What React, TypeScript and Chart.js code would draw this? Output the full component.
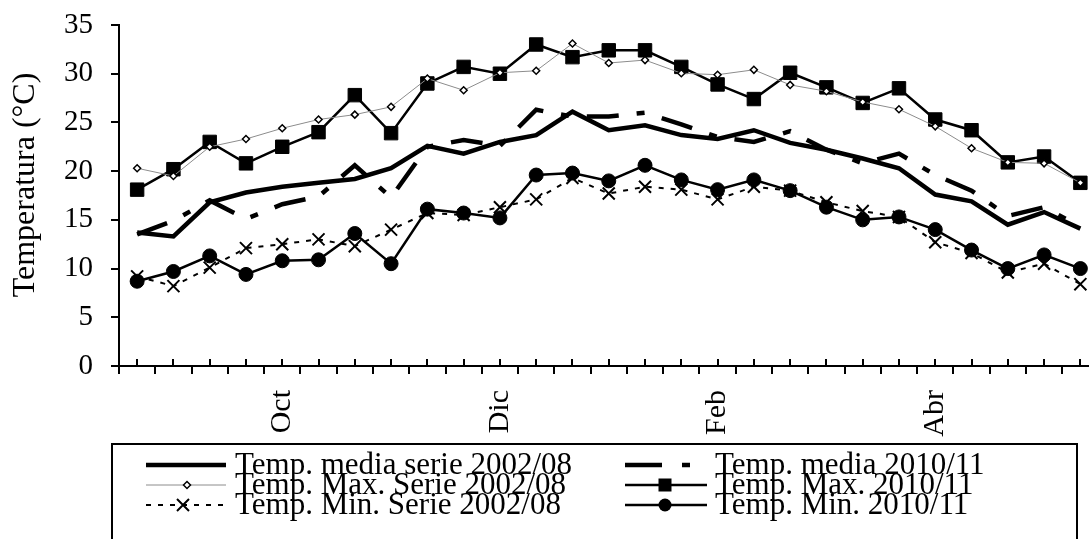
import React, { useEffect, useRef } from 'react';
import { Chart, registerables } from 'chart.js';

Chart.register(...registerables);

const FONT = "'Liberation Serif', 'Times New Roman', serif";

const categories = [
  '', '', '', '', 'Oct', '', '', '', '', '', 'Dic', '', '', '',
  '', '', 'Feb', '', '', '', '', '', 'Abr', '', '', '', '',
];

const yTicks = [0, 5, 10, 15, 20, 25, 30, 35];
const yTitle = 'Temperatura (°C)';

const mediaSerie = [
  13.7, 13.3, 16.8, 17.8, 18.4, 18.8, 19.2, 20.3, 22.6, 21.8, 23.0, 23.7, 26.1, 24.2,
  24.7, 23.7, 23.3, 24.2, 22.9, 22.2, 21.3, 20.3, 17.6, 16.9, 14.5, 15.8, 14.1,
];
const maxSerie = [
  20.3, 19.5, 22.5, 23.3, 24.4, 25.3, 25.8, 26.6, 29.5, 28.3, 30.1, 30.3, 33.1, 31.1,
  31.4, 30.05, 29.9, 30.4, 28.85, 28.2, 27.1, 26.35, 24.6, 22.35, 20.9, 20.8, 18.8,
];
const minSerie = [
  9.2, 8.2, 10.1, 12.1, 12.5, 13.0, 12.3, 14.0, 15.7, 15.5, 16.3, 17.1, 19.3, 17.7,
  18.4, 18.1, 17.1, 18.4, 18.0, 16.8, 15.9, 15.3, 12.7, 11.6, 9.6, 10.5, 8.4,
];
const media1011 = [
  13.5, 14.9, 17.0, 15.1, 16.6, 17.4, 20.6, 17.3, 22.5, 23.2, 22.6, 26.3, 25.6, 25.6,
  26.0, 24.8, 23.5, 23.0, 24.1, 22.2, 20.8, 21.8, 19.6, 18.0, 15.4, 16.3, 14.3,
];
const max1011 = [
  18.1, 20.2, 23.0, 20.8, 22.5, 24.0, 27.8, 23.9, 29.0, 30.7, 30.0, 33.0, 31.7, 32.4,
  32.4, 30.7, 28.9, 27.4, 30.1, 28.6, 27.0, 28.5, 25.3, 24.2, 20.9, 21.5, 18.8,
];
const min1011 = [
  8.7, 9.7, 11.3, 9.4, 10.8, 10.9, 13.6, 10.5, 16.1, 15.7, 15.2, 19.6, 19.8, 19.0,
  20.6, 19.1, 18.1, 19.1, 18.0, 16.3, 15.0, 15.3, 14.0, 11.9, 10.0, 11.4, 10.0,
];

const seriesNames = [
  'Temp. media serie 2002/08',
  'Temp. Max. Serie 2002/08',
  'Temp. Min. Serie 2002/08',
  'Temp. media 2010/11',
  'Temp. Max. 2010/11',
  'Temp. Min. 2010/11',
];

const CANVAS_W = 1109;
const CANVAS_H = 539;

function drawMarker(ctx: CanvasRenderingContext2D, kind: string, x: number, y: number) {
  ctx.save();
  ctx.setLineDash([]);
  ctx.strokeStyle = '#000';
  ctx.fillStyle = '#000';
  if (kind === 'diamond') {
    const r = 3.5;
    ctx.beginPath();
    ctx.moveTo(x - r, y);
    ctx.lineTo(x, y - r);
    ctx.lineTo(x + r, y);
    ctx.lineTo(x, y + r);
    ctx.closePath();
    ctx.fillStyle = '#fff';
    ctx.fill();
    ctx.lineWidth = 1.5;
    ctx.stroke();
  } else if (kind === 'x') {
    const r = 6;
    ctx.lineWidth = 2;
    ctx.beginPath();
    ctx.moveTo(x - r, y - r);
    ctx.lineTo(x + r, y + r);
    ctx.moveTo(x - r, y + r);
    ctx.lineTo(x + r, y - r);
    ctx.stroke();
  } else if (kind === 'square') {
    ctx.fillRect(x - 6.5, y - 6.5, 13, 13);
  } else if (kind === 'circle') {
    ctx.beginPath();
    ctx.arc(x, y, 6.5, 0, Math.PI * 2);
    ctx.fill();
  }
  ctx.restore();
}

const decorPlugin = {
  id: 'decor',
  afterDraw(chart: any) {
    const ctx: CanvasRenderingContext2D = chart.ctx;
    const xs = chart.scales.x;
    const bottom = chart.chartArea.bottom;
    ctx.save();
    // inner ticks at category centres
    ctx.strokeStyle = '#000';
    ctx.lineWidth = 2;
    for (let i = 0; i < categories.length; i++) {
      const px = Math.round(xs.getPixelForValue(i));
      ctx.beginPath();
      ctx.moveTo(px, bottom);
      ctx.lineTo(px, bottom - 7);
      ctx.stroke();
    }

    // y axis title
    ctx.save();
    ctx.translate(26, 185);
    ctx.rotate(-Math.PI / 2);
    ctx.font = `32px ${FONT}`;
    ctx.fillStyle = '#000';
    ctx.textAlign = 'center';
    ctx.textBaseline = 'middle';
    ctx.fillText(yTitle, 0, 0);
    ctx.restore();

    // legend box
    ctx.lineWidth = 2;
    ctx.strokeRect(112, 444, 1077 - 112, 140);

    const rowsY = [465, 485, 505];
    const baseY = [474, 494, 514];
    ctx.font = `31px ${FONT}`;
    ctx.fillStyle = '#000';
    ctx.textBaseline = 'alphabetic';
    ctx.textAlign = 'left';

    const c1a = 146, c1b = 226, c1t = 235;
    const c2a = 625, c2b = 707, c2t = 715;

    ctx.lineCap = 'butt';
    ctx.setLineDash([]);
    ctx.lineWidth = 4.5;
    ctx.beginPath(); ctx.moveTo(c1a, rowsY[0]); ctx.lineTo(c1b, rowsY[0]); ctx.stroke();
    ctx.strokeStyle = '#8c8c8c';
    ctx.lineWidth = 1;
    ctx.beginPath(); ctx.moveTo(c1a, rowsY[1]); ctx.lineTo(c1b, rowsY[1]); ctx.stroke();
    drawMarker(ctx, 'diamond', 187, rowsY[1]);
    ctx.strokeStyle = '#000';
    ctx.lineWidth = 2;
    ctx.setLineDash([5, 7]);
    ctx.beginPath(); ctx.moveTo(c1a, rowsY[2]); ctx.lineTo(c1b, rowsY[2]); ctx.stroke();
    ctx.setLineDash([]);
    drawMarker(ctx, 'x', 183, rowsY[2]);

    ctx.lineWidth = 4.5;
    ctx.setLineDash([37, 20, 8, 20]);
    ctx.beginPath(); ctx.moveTo(c2a, rowsY[0]); ctx.lineTo(c2b, rowsY[0]); ctx.stroke();
    ctx.setLineDash([]);
    ctx.lineWidth = 2.5;
    ctx.beginPath(); ctx.moveTo(c2a, rowsY[1]); ctx.lineTo(c2b, rowsY[1]); ctx.stroke();
    drawMarker(ctx, 'square', 665, rowsY[1]);
    ctx.beginPath(); ctx.moveTo(c2a, rowsY[2]); ctx.lineTo(c2b, rowsY[2]); ctx.stroke();
    drawMarker(ctx, 'circle', 665, rowsY[2]);

    for (let r = 0; r < 3; r++) {
      ctx.fillText(seriesNames[r], c1t, baseY[r]);
      ctx.fillText(seriesNames[r + 3], c2t, baseY[r]);
    }
    ctx.restore();
  },
};

export default function App() {
  const ref = useRef<HTMLCanvasElement | null>(null);

  useEffect(() => {
    if (!ref.current) return;
    const chart = new Chart(ref.current, {
      type: 'line',
      data: {
        labels: categories,
        datasets: [
          {
            label: seriesNames[0],
            data: mediaSerie,
            borderColor: '#000',
            borderWidth: 4.5,
            pointRadius: 0,
            order: 1,
          },
          {
            label: seriesNames[1],
            data: maxSerie,
            borderColor: '#8c8c8c',
            borderWidth: 1,
            pointStyle: 'rectRot',
            pointRadius: 3.5,
            pointBackgroundColor: '#fff',
            pointBorderColor: '#000',
            pointBorderWidth: 1.5,
            order: 0,
          },
          {
            label: seriesNames[2],
            data: minSerie,
            borderColor: '#000',
            borderWidth: 2,
            borderDash: [5, 7],
            pointStyle: 'crossRot',
            pointRadius: 8.5,
            pointBorderColor: '#000',
            pointBorderWidth: 2,
            order: 3,
          },
          {
            label: seriesNames[3],
            data: media1011,
            borderColor: '#000',
            borderWidth: 4.5,
            borderDash: [32, 18, 8, 18],
            pointRadius: 0,
            order: 2,
          },
          {
            label: seriesNames[4],
            data: max1011,
            borderColor: '#000',
            borderWidth: 2.5,
            pointStyle: 'rect',
            pointRadius: 9.5,
            pointBackgroundColor: '#000',
            pointBorderColor: '#000',
            pointBorderWidth: 1,
            order: 1,
          },
          {
            label: seriesNames[5],
            data: min1011,
            borderColor: '#000',
            borderWidth: 2.5,
            pointStyle: 'circle',
            pointRadius: 7,
            pointBackgroundColor: '#000',
            pointBorderColor: '#000',
            pointBorderWidth: 1,
            order: 2,
          },
        ],
      },
      options: {
        responsive: false,
        animation: false,
        events: [],
        layout: { padding: { top: 25, right: 1, left: 0, bottom: 0 } },
        plugins: {
          legend: { display: false },
          tooltip: { enabled: false },
          title: { display: false },
        },
        scales: {
          x: {
            type: 'category',
            offset: true,
            grid: {
              offset: true,
              drawOnChartArea: false,
              drawTicks: true,
              tickLength: 8,
              color: '#000',
              lineWidth: 2,
            },
            border: { color: '#000', width: 2 },
            ticks: {
              autoSkip: false,
              maxRotation: 90,
              minRotation: 90,
              padding: 16,
              color: '#000',
              font: { family: FONT, size: 30 },
            },
            afterFit: (s: any) => {
              s.height = CANVAS_H - 366;
              s.paddingLeft = 0;
              s.paddingRight = 0;
              s.paddingTop = 0;
              s.paddingBottom = 0;
            },
          },
          y: {
            min: 0,
            max: 35,
            afterBuildTicks: (s: any) => {
              s.ticks = yTicks.map((v) => ({ value: v }));
            },
            ticks: {
              padding: 18,
              color: '#000',
              font: { family: FONT, size: 29 },
            },
            grid: {
              drawOnChartArea: false,
              tickLength: 8,
              color: '#000',
              lineWidth: 2,
            },
            border: { color: '#000', width: 2 },
            afterFit: (s: any) => {
              s.width = 119;
              s.paddingLeft = 0;
              s.paddingRight = 0;
              s.paddingTop = 0;
              s.paddingBottom = 0;
            },
          },
        },
      },
      plugins: [decorPlugin],
    } as any);
    return () => chart.destroy();
  }, []);

  return (
    <div
      style={{
        position: 'fixed',
        left: 0,
        top: 0,
        width: 1089,
        height: 539,
        overflow: 'hidden',
        background: '#fff',
      }}
    >
      <canvas
        ref={ref}
        width={CANVAS_W}
        height={CANVAS_H}
        style={{ display: 'block', width: CANVAS_W, height: CANVAS_H }}
      />
    </div>
  );
}
